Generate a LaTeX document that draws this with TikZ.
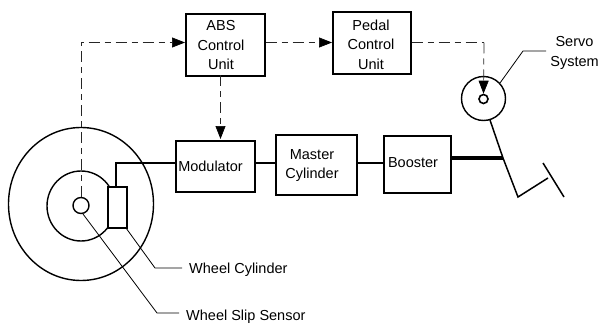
\documentclass[tikz,border=0pt]{standalone}
\usepackage{fontspec}
\setmainfont{Liberation Sans}
\usetikzlibrary{arrows.meta,calc,shapes.geometric}
\tikzset{
 blockbox/.style={draw=black,line width=1.5pt,fill=white,inner sep=0pt,anchor=north west},
 ctrl/.style={line width=.7pt,dash pattern=on 11pt off 5pt on 6pt off 5pt,draw=black!85},
 ctrlarrow/.style={ctrl,-{Triangle[length=13pt,width=10pt,black]}},
 pipe/.style={line width=1.4pt},
 leader/.style={line width=.8pt},
 lab/.style={font=\fontsize{14.5}{19.5}\selectfont,align=center,inner sep=0pt},
 ring/.style={draw=black,line width=1.4pt,fill=white,ellipse,inner sep=0pt}
}
\begin{document}
\begin{tikzpicture}[x=1pt,y=-1pt]
\useasboundingbox (0,0) rectangle (598,324);
% wheel
\node[ring,minimum width=145pt,minimum height=153pt] (wheel) at (81,204) {};
\node[ring,minimum width=68pt,minimum height=70pt] (hub) at (81,206) {};
\node[blockbox,minimum width=19pt,minimum height=41pt] (wc) at (107,186) {};
\node[ring,minimum width=16pt,minimum height=16pt] (sensor) at (81,205.5) {};
% blocks
\node[blockbox,minimum width=79pt,minimum height=62pt] (abs) at (185,13) {};
\node[blockbox,minimum width=78pt,minimum height=62pt] (pedal) at (332,11) {};
\node[blockbox,minimum width=79pt,minimum height=51pt] (mod) at (175,140) {};
\node[blockbox,minimum width=81pt,minimum height=60pt] (master) at (275,134) {};
\node[blockbox,minimum width=67pt,minimum height=57pt] (boost) at (383,135) {};
\node[lab] (abst) at (221,45.5) {ABS\\Control\\Unit};
\node[lab] (pedalt) at (371,44.5) {Pedal\\Control\\Unit};
\node[lab] (modt) at (210.5,166) {Modulator};
\node[lab] (mastert) at (312,165.5) {Master\\Cylinder};
\node[lab] (boostt) at (413,162.5) {Booster};
% servo
\node[ring,minimum width=44pt,minimum height=44pt] (servo) at (483.5,98.5) {};
\node[draw=black,circle,line width=1.6pt,minimum size=9pt,inner sep=0pt] (pivot) at (483.5,99) {};
% pipes
\coordinate (c1) at (116,163);
\draw[pipe] (wc.north -| c1) -- (c1) -- (c1 -| mod.west);
\draw[pipe] (mod.east |- c1) -- (c1 -| master.west);
\draw[pipe] (master.east |- c1) -- (c1 -| boost.west);
% pedal
\coordinate (joint) at (503,158);
\coordinate (heel) at (518,197);
\coordinate (toe) at (548,178);
\coordinate (ftop) at (543,163);
\coordinate (fend) at (564,197);
\draw[line width=4pt] (boost.east |- joint) -- (joint);
\draw[line width=1.5pt,line join=miter] (490,120) -- (joint) -- (heel) -- (toe);
\draw[line width=1.5pt] (ftop) -- (fend);
% control
\coordinate (c2) at (81,42.5);
\draw[ctrlarrow] (sensor.north) -- (c2) -- (abs.west |- c2);
\draw[ctrlarrow] (abs.east |- c2) -- (pedal.west |- c2);
\draw[ctrlarrow] (220.5,75) -- (220.5,139);
\coordinate (c3) at (484,42.5);
\draw[ctrl] (pedal.east |- c3) -- (c3);
\draw[ctrlarrow] (c3) -- (pivot.north);
% leaders
\node[lab] (servol) at (574.5,53) {Servo\\System};
\node[lab,anchor=west] (wcl) at (189,270) {Wheel Cylinder};
\node[lab,anchor=west] (wsl) at (186,317) {Wheel Slip Sensor};
\coordinate (l1) at (523,51);
\draw[leader] (500,83) -- (l1) -- (546,51);
\coordinate (l2) at (155,268);
\draw[leader] (126,228) -- (l2) -- (182,268);
\coordinate (l3) at (157,313);
\draw[leader] (83,214) -- (l3) -- (179,313);
\end{tikzpicture}
\end{document}
